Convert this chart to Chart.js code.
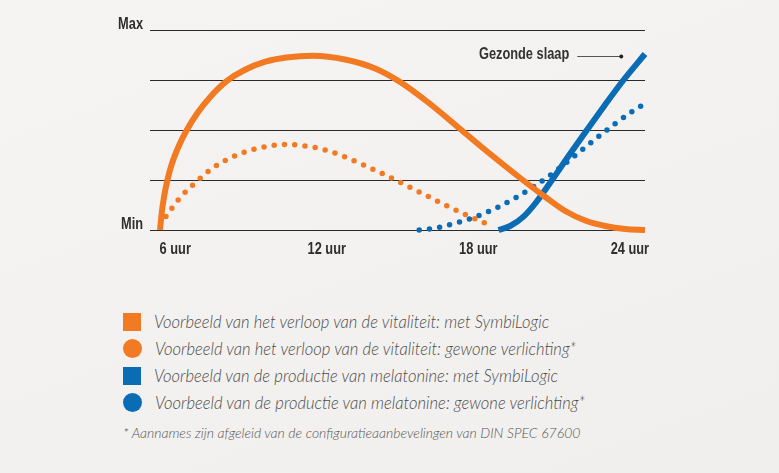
<!DOCTYPE html>
<html>
<head>
<meta charset="utf-8">
<script src="https://cdn.jsdelivr.net/npm/chart.js@4"></script>
<style>
  html, body { margin: 0; padding: 0; }
  body {
    width: 779px; height: 473px; overflow: hidden; position: relative;
    background: linear-gradient(160deg, #f6f4f2 0%, #f3f1ef 60%, #f1efed 100%);
  }
  #wrap { position: absolute; left: 0; top: 0; width: 779px; height: 280px; }
  #legend {
    position: absolute; left: 123px; top: 308px;
    font-family: Lato, 'Liberation Sans', sans-serif; font-style: italic; font-weight: 300;
    color: #4c4c4c; font-size: 16.6px;
  }
  .item { display: flex; align-items: center; height: 27px; }
  .mark { width: 18px; height: 18px; margin-right: 13px; flex: none; }
  .mark.circle { border-radius: 50%; width: 19px; height: 19px; }
  #note { margin-top: 8px; font-size: 14px; color: #555; }
</style>
</head>
<body>
<div id="wrap"><canvas id="chart" width="779" height="280"></canvas></div>
<div id="legend"></div>

<script>
// x = hour of day, y = relative level (0 = Min, 100 = Max)
const vitSolidX = [5.396, 5.464, 5.555, 5.689, 5.876, 6.121, 6.458, 6.878, 7.393, 8.059, 8.744, 9.568, 10.40, 11.458,
  12.726, 13.914, 14.905, 16.094, 17.282, 18.471, 19.659, 20.65, 21.442, 22.234, 23.027, 23.819, 24.6];
const vitSolidY = [0, 8.5, 16.5, 25, 33.5, 41.5, 50, 58.5, 66.65, 74.65, 80, 84.15, 86.25, 87.15,
  85.25, 80.75, 74, 63, 50.5, 38, 26, 16.5, 9.5, 4.75, 2, 0.5, 0];

const vitDotX = [5.63, 6.16, 6.81, 7.51, 8.30, 9.15, 10.03, 10.48, 10.93, 11.80, 12.63, 13.43, 14.23, 15.04, 15.82, 16.61, 17.39, 18.19, 18.60];
const vitDotY = [6.7, 15.7, 23.8, 31.2, 36.7, 40.5, 42.5, 42.8, 42.3, 40.5, 37, 32.7, 28, 23, 18, 13, 8.3, 3.8, 1.7];

const melSolidX = [18.80, 19.26, 19.79, 20.30, 20.92, 21.60, 22.30, 23.00, 23.75, 24.60];
const melSolidY = [0, 2, 6.7, 14, 25, 37.5, 50, 62.3, 75, 88];

const melDotX = [15.66, 16.07, 16.52, 16.95, 17.39, 17.81, 18.22, 18.63, 19.42, 20.19, 20.92, 21.97, 22.67, 23.38, 24.12, 24.49];
const melDotY = [0, 0.5, 1.5, 3, 4.5, 6.2, 8.3, 10.5, 15.7, 21.7, 28, 38.7, 45.8, 52.8, 59.5, 62.3];

const xTicks = [6, 12, 18, 24];
const xLabels = ['6 uur', '12 uur', '18 uur', '24 uur'];
const yLabels = { 0: 'Min', 100: 'Max' };

const seriesLabels = [
  'Voorbeeld van het verloop van de vitaliteit: met SymbiLogic',
  'Voorbeeld van het verloop van de vitaliteit: gewone verlichting*',
  'Voorbeeld van de productie van melatonine: met SymbiLogic',
  'Voorbeeld van de productie van melatonine: gewone verlichting*',
];
const footnote = '* Aannames zijn afgeleid van de configuratieaanbevelingen van DIN SPEC 67600';

const annotation = { x: 23.66, y: 87, text: 'Gezonde slaap' };

const ORANGE = '#f27a22';
const BLUE = '#0b6cb6';
const LABEL_FONT = "bold 16px 'Liberation Sans', 'DejaVu Sans', sans-serif";
const SQUEEZE = 0.8; // the original uses a condensed face

const pts = (xs, ys) => xs.map((x, i) => ({ x: x, y: ys[i] }));

function solid(label, xs, ys, color) {
  return {
    label: label, data: pts(xs, ys), borderColor: color, backgroundColor: color,
    borderWidth: 6, pointRadius: 0, cubicInterpolationMode: 'monotone', clip: false,
  };
}
function dotted(label, xs, ys, color) {
  return {
    label: label, data: pts(xs, ys), borderColor: color, backgroundColor: color,
    borderWidth: 5.5, borderDash: [0, 10.3], borderCapStyle: 'round',
    pointRadius: 0, cubicInterpolationMode: 'monotone', clip: false, dotted: true,
  };
}

function squeezedText(ctx, text, x, y, align) {
  ctx.save();
  ctx.translate(x, y);
  ctx.scale(SQUEEZE, 1);
  ctx.textAlign = align;
  ctx.textBaseline = 'middle';
  ctx.fillText(text, 0, 0);
  ctx.restore();
}

// tick labels + "Gezonde slaap" note, drawn in a condensed style
const labelPlugin = {
  id: 'labels',
  afterDraw(chart) {
    const ctx = chart.ctx;
    const xs = chart.scales.x;
    const ys = chart.scales.y;
    const area = chart.chartArea;
    ctx.save();
    ctx.font = LABEL_FONT;
    ctx.fillStyle = '#2e2e2e';
    xs.ticks.forEach((t) => {
      const label = xLabels[xTicks.indexOf(t.value)];
      if (label) squeezedText(ctx, label, xs.getPixelForValue(t.value), area.bottom + 20, 'center');
    });
    ys.ticks.forEach((t) => {
      const label = yLabels[t.value];
      if (label) squeezedText(ctx, label, area.left - 7, ys.getPixelForValue(t.value) - 5, 'right');
    });

    const px = xs.getPixelForValue(annotation.x);
    const py = ys.getPixelForValue(annotation.y);
    ctx.strokeStyle = '#555';
    ctx.lineWidth = 1;
    ctx.beginPath();
    ctx.moveTo(px - 44, py + 0.5);
    ctx.lineTo(px, py + 0.5);
    ctx.stroke();
    ctx.fillStyle = '#222';
    ctx.beginPath();
    ctx.arc(px, py + 0.5, 2, 0, Math.PI * 2);
    ctx.fill();
    ctx.fillStyle = '#333';
    squeezedText(ctx, annotation.text, px - 52, py - 1, 'right');
    ctx.restore();
  },
};

const config = {
  type: 'line',
  data: {
    datasets: [
      solid(seriesLabels[0], vitSolidX, vitSolidY, ORANGE),
      dotted(seriesLabels[1], vitDotX, vitDotY, ORANGE),
      solid(seriesLabels[2], melSolidX, melSolidY, BLUE),
      dotted(seriesLabels[3], melDotX, melDotY, BLUE),
    ],
  },
  options: {
    responsive: false,
    animation: false,
    layout: { padding: { top: 30, right: 134, bottom: 0, left: 0 } },
    plugins: { legend: { display: false }, tooltip: { enabled: false } },
    scales: {
      x: {
        type: 'linear',
        min: 5,
        max: 24.6,
        afterBuildTicks(scale) {
          scale.ticks = xTicks.map((v) => ({ value: v }));
        },
        afterFit(scale) { scale.height = 50; },
        grid: { display: false },
        border: { display: false },
        ticks: { display: false },
      },
      y: {
        min: 0,
        max: 100,
        afterFit(scale) { scale.width = 150; },
        grid: { color: '#2a2a2a', lineWidth: 1, drawTicks: false },
        border: { display: false },
        ticks: { stepSize: 25, display: false },
      },
    },
  },
  plugins: [labelPlugin],
};

const chart = new Chart(document.getElementById('chart'), config);

// legend built from the chart's datasets
const legend = document.getElementById('legend');
chart.data.datasets.forEach((ds) => {
  const row = document.createElement('div');
  row.className = 'item';
  const mark = document.createElement('span');
  mark.className = 'mark' + (ds.dotted ? ' circle' : '');
  mark.style.background = ds.borderColor;
  const txt = document.createElement('span');
  txt.textContent = ds.label;
  row.appendChild(mark);
  row.appendChild(txt);
  legend.appendChild(row);
});
const note = document.createElement('div');
note.id = 'note';
note.textContent = footnote;
legend.appendChild(note);
</script>
</body>
</html>
